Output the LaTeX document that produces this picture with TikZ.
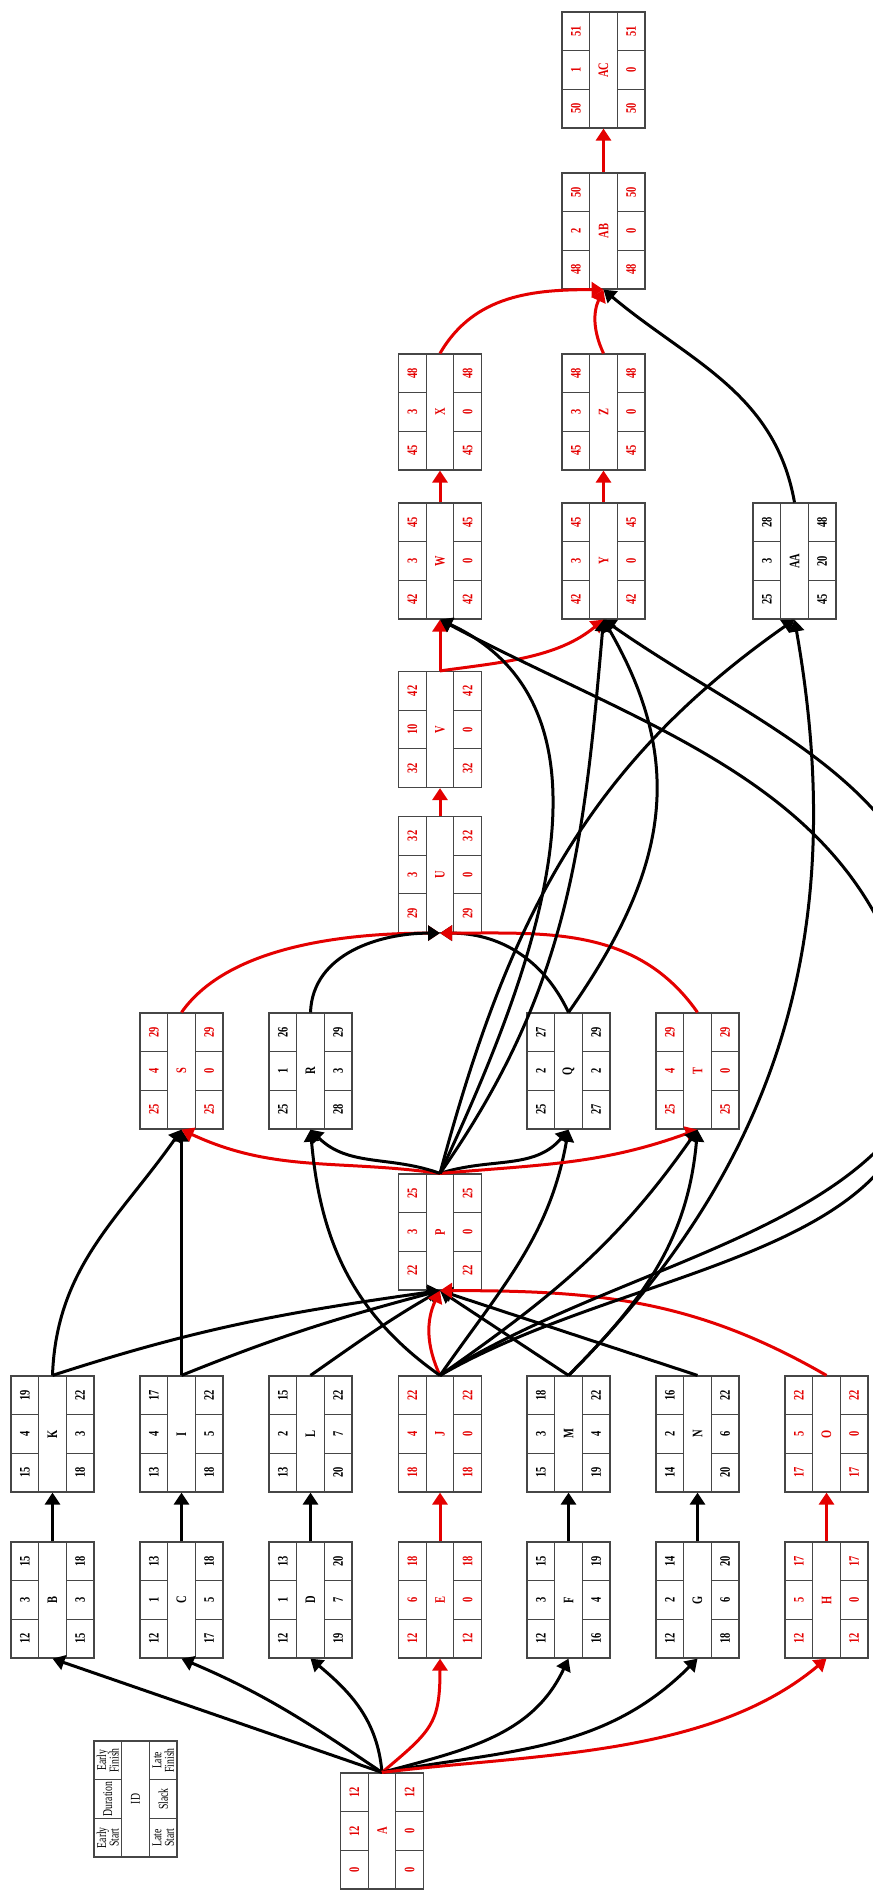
\documentclass[tikz,border=0pt]{standalone}
\usepackage{fontspec}
\newfontfamily\cellfont[FakeStretch=0.72]{Liberation Serif}
\usetikzlibrary{arrows.meta}
\definecolor{crit}{RGB}{228,0,0}
\definecolor{boxgray}{RGB}{70,70,70}

% one activity box: [text style]{id}{position}{ES}{Dur}{EF}{LS}{Slack}{LF}
\newcommand\actnode[9][]{%
  \begin{scope}[shift={(#3)}]
    \node[actbox] (#2) at (0,0) {};
    \draw[cellline] (-13.83,-58) -- (-13.83,58) (13.83,-58) -- (13.83,58)
      (-41.5,-19.33) -- (-13.83,-19.33) (-41.5,19.33) -- (-13.83,19.33)
      (13.83,-19.33) -- (41.5,-19.33) (13.83,19.33) -- (41.5,19.33);
    \node[celltext,#1] (#2-ef) at (-27.67,-38.67) {#6};
    \node[celltext,#1] (#2-du) at (-27.67,0) {#5};
    \node[celltext,#1] (#2-es) at (-27.67,38.67) {#4};
    \node[celltext,#1] (#2-id) at (0,0) {#2};
    \node[celltext,#1] (#2-lf) at (27.67,-38.67) {#9};
    \node[celltext,#1] (#2-sl) at (27.67,0) {#8};
    \node[celltext,#1] (#2-ls) at (27.67,38.67) {#7};
  \end{scope}}

\tikzset{
  actbox/.style={draw=boxgray, line width=1.2pt, minimum width=83pt,
                 minimum height=116pt, inner sep=0pt},
  cellline/.style={draw=boxgray, line width=1.2pt},
  celltext/.style={rotate=90, inner sep=0pt, align=center,
                   font=\cellfont\bfseries\fontsize{14.5}{14}\selectfont},
  keytext/.style={font=\cellfont\mdseries\fontsize{13.5}{12.5}\selectfont},
  crittext/.style={text=crit},
  conn/.style={line width=3pt, -{Triangle[length=12pt,width=15pt]}},
  critconn/.style={conn, crit}
}

\begin{document}
\begin{tikzpicture}[x=1pt, y=-1pt]
  \useasboundingbox (0,0) rectangle (873,1899);
  \clip (0,0) rectangle (873,1899);

  % legend
  \actnode[keytext]{ID}{135.5,1799}{Early\\Start}{Duration}{Early\\Finish}{Late\\Start}{Slack}{Late\\Finish}

  % activities
  \actnode[crittext]{A}{382,1831}{0}{12}{12}{0}{0}{12}
  \actnode{B}{52.5,1600}{12}{3}{15}{15}{3}{18}
  \actnode{C}{181.5,1600}{12}{1}{13}{17}{5}{18}
  \actnode{D}{310.5,1600}{12}{1}{13}{19}{7}{20}
  \actnode[crittext]{E}{440,1600}{12}{6}{18}{12}{0}{18}
  \actnode{F}{568.5,1600}{12}{3}{15}{16}{4}{19}
  \actnode{G}{697.5,1600}{12}{2}{14}{18}{6}{20}
  \actnode[crittext]{H}{826.5,1600}{12}{5}{17}{12}{0}{17}
  \actnode{K}{52.5,1434}{15}{4}{19}{18}{3}{22}
  \actnode{I}{181.5,1434}{13}{4}{17}{18}{5}{22}
  \actnode{L}{310.5,1434}{13}{2}{15}{20}{7}{22}
  \actnode[crittext]{J}{440,1434}{18}{4}{22}{18}{0}{22}
  \actnode{M}{568.5,1434}{15}{3}{18}{19}{4}{22}
  \actnode{N}{697.5,1434}{14}{2}{16}{20}{6}{22}
  \actnode[crittext]{O}{826.5,1434}{17}{5}{22}{17}{0}{22}
  \actnode[crittext]{P}{440,1232}{22}{3}{25}{22}{0}{25}
  \actnode[crittext]{S}{181.5,1071}{25}{4}{29}{25}{0}{29}
  \actnode{R}{310.5,1071}{25}{1}{26}{28}{3}{29}
  \actnode{Q}{568.5,1071}{25}{2}{27}{27}{2}{29}
  \actnode[crittext]{T}{697.5,1071}{25}{4}{29}{25}{0}{29}
  \actnode[crittext]{U}{440,874.5}{29}{3}{32}{29}{0}{32}
  \actnode[crittext]{V}{440,729.5}{32}{10}{42}{32}{0}{42}
  \actnode[crittext]{W}{440,561}{42}{3}{45}{42}{0}{45}
  \actnode[crittext]{Y}{603.5,561}{42}{3}{45}{42}{0}{45}
  \actnode{AA}{794.5,561}{25}{3}{28}{45}{20}{48}
  \actnode[crittext]{X}{440,412}{45}{3}{48}{45}{0}{48}
  \actnode[crittext]{Z}{603.5,412}{45}{3}{48}{45}{0}{48}
  \actnode[crittext]{AB}{603.5,231}{48}{2}{50}{48}{0}{50}
  \actnode[crittext]{AC}{603.5,70}{50}{1}{51}{50}{0}{51}

  % turning points of the two long edges, outside the frame
  \coordinate (jwturn) at (915,1030);
  \coordinate (jyturn) at (945,975);

  % from A
  \draw[conn] (A.north) -- (B.south);
  \draw[conn] (A.north) to[out=146,in=-23] (C.south);
  \draw[conn] (A.north) to[out=95,in=-40] (D.south);
  \draw[critconn] (A.north) to[out=40,in=-90,looseness=1.3] (E.south);
  \draw[conn] (A.north) to[out=15,in=-115] (F.south);
  \draw[conn] (A.north) to[out=10,in=-135] (G.south);
  \draw[critconn] (A.north) to[out=7,in=-140,looseness=0.85] (H.south);

  % second column
  \draw[conn] (B.north) -- (K.south);
  \draw[conn] (C.north) -- (I.south);
  \draw[conn] (D.north) -- (L.south);
  \draw[critconn] (E.north) -- (J.south);
  \draw[conn] (F.north) -- (M.south);
  \draw[conn] (G.north) -- (N.south);
  \draw[critconn] (H.north) -- (O.south);

  % into P
  \draw[conn] (K.north) to[out=18,in=-172] (P.south);
  \draw[conn] (I.north) to[out=22,in=-165] (P.south);
  \draw[conn] (L.north) to[out=35,in=-150] (P.south);
  \draw[critconn] (J.north) to[bend left=25] (P.south);
  \draw[conn] (M.north) -- (P.south);
  \draw[conn] (N.north) -- (P.south);
  \draw[critconn] (O.north) to[out=150,in=0] (P.south);

  % into S, R, Q, T
  \draw[conn] (K.north) to[out=88,in=-125] (S.south);
  \draw[conn] (I.north) -- (S.south);
  \draw[critconn] (P.north) to[out=172,in=-25] (S.south);
  \draw[conn] (P.north) to[out=160,in=-45] (R.south);
  \draw[conn] (J.north) to[out=145,in=-85] (R.south);
  \draw[conn] (P.north) to[out=18,in=-130] (Q.south);
  \draw[conn] (J.north) to[out=55,in=-100] (Q.south);
  \draw[critconn] (P.north) to[out=5,in=-160] (T.south);
  \draw[conn] (J.north) to[out=35,in=-125] (T.south);
  \draw[conn] (M.north) to[out=45,in=-95] (T.south);

  % into U and up the spine
  \draw[critconn] (S.north) to[out=55,in=180,looseness=0.8] (U.south);
  \draw[conn] (R.north) to[out=88,in=180] (U.south);
  \draw[conn] (Q.north) to[out=115,in=0] (U.south);
  \draw[critconn] (T.north) to[out=125,in=0] (U.south);
  \draw[critconn] (U.north) -- (V.south);
  \draw[critconn] (V.north) -- (W.south);
  \draw[critconn] (V.north) to[out=8,in=-140,looseness=0.9] (Y.south);

  % long edges into W, Y, AA
  \draw[conn] (P.north) to[out=65,in=-25] (W.south);
  \draw[conn] (P.north) to[out=55,in=-95] (Y.south);
  \draw[conn] (Q.north) to[out=55,in=-60,looseness=1.1] (Y.south);
  \draw[conn] (P.north) to[out=75,in=-145] (AA.south);
  \draw[conn] (M.north) to[out=45,in=-80] (AA.south);
  \draw[conn] (J.north) to[out=30,in=-80] (jwturn) to[out=100,in=-28] (W.south);
  \draw[conn] (J.north) to[out=32,in=-88] (jyturn) to[out=95,in=-35] (Y.south);

  % top
  \draw[critconn] (W.north) -- (X.south);
  \draw[critconn] (Y.north) -- (Z.south);
  \draw[critconn] (X.north) to[out=60,in=180] (AB.south);
  \draw[critconn] (Z.north) to[bend left=25] (AB.south);
  \draw[conn] (AA.north) to[out=100,in=-40] (AB.south);
  \draw[critconn] (AB.north) -- (AC.south);
\end{tikzpicture}
\end{document}
